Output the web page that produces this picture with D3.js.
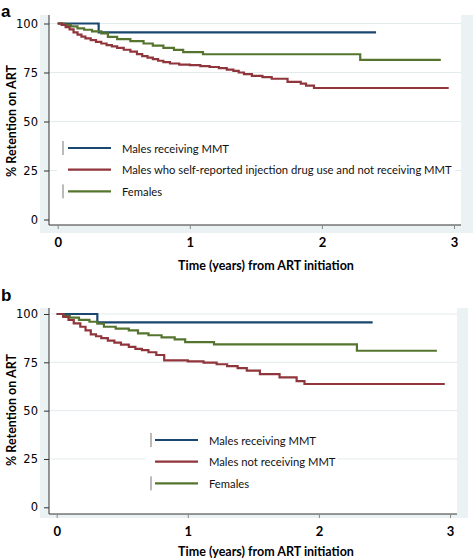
<!DOCTYPE html>
<html><head><meta charset="utf-8">
<script src="https://cdn.jsdelivr.net/npm/d3@7"></script>
<style>body{margin:0;background:#fff}svg{display:block}</style>
</head><body>
<svg id="c" width="473" height="559"></svg>
<script>
// ---------- DATA ----------
const yTicks = [0, 25, 50, 75, 100];
const xTicks = [0, 1, 2, 3];
const xTitle = "Time (years) from ART initiation";
const yTitle = "% Retention on ART";

// Panel a
const legendA = ["Males receiving MMT", "Males who self-reported injection drug use and not receiving MMT", "Females"];
const blueA_t = [0, 0.31, 2.41];
const blueA_v = [100, 95.5, 95.5];
const redA_t = [0, 0.03, 0.06, 0.09, 0.12, 0.15, 0.18, 0.21, 0.25, 0.29, 0.33, 0.37, 0.41, 0.45, 0.5, 0.55, 0.6, 0.64, 0.68, 0.72, 0.76, 0.8, 0.85, 0.92, 1.0, 1.08, 1.15, 1.22, 1.28, 1.33, 1.37, 1.41, 1.47, 1.55, 1.62, 1.74, 1.84, 1.88, 1.94, 2.96];
const redA_v = [100, 99.3, 98.2, 97, 95.5, 94.3, 93.3, 92.4, 91.5, 90.6, 89.8, 89.0, 88.3, 87.6, 86.6, 85.6, 84.4, 83.4, 82.6, 81.8, 81.0, 80.3, 79.6, 79.0, 78.8, 78.3, 77.8, 77.2, 76.5, 75.8, 75.0, 74.2, 73.3, 72.6, 71.8, 70.2, 69.3, 68.3, 67.1, 67.1];
const greenA_t = [0, 0.05, 0.1, 0.15, 0.2, 0.26, 0.33, 0.38, 0.45, 0.55, 0.65, 0.72, 0.8, 0.88, 0.95, 1.1, 2.29, 2.9];
const greenA_v = [100, 99.3, 98.5, 97.5, 96.8, 96.0, 95.0, 93.2, 92.0, 91.0, 89.8, 88.7, 87.6, 86.5, 85.4, 84.3, 81.4, 81.4];

// Panel b
const legendB = ["Males receiving MMT", "Males not receiving MMT", "Females"];
const blueB_t = [0, 0.31, 2.41];
const blueB_v = [100, 95.7, 95.7];
const redB_t = [0, 0.05, 0.09, 0.13, 0.18, 0.22, 0.26, 0.3, 0.34, 0.39, 0.44, 0.49, 0.55, 0.6, 0.65, 0.7, 0.76, 0.82, 1.0, 1.12, 1.22, 1.3, 1.38, 1.45, 1.55, 1.7, 1.83, 1.89, 2.96];
const redB_v = [100, 98.5, 96.9, 95.2, 93.4, 91.5, 89.5, 88.5, 87.5, 86.2, 85.2, 84.2, 83.0, 82.0, 81.3, 80.2, 78.8, 76.0, 75.5, 74.8, 74.0, 73.0, 72.0, 70.7, 68.9, 67.2, 65.3, 63.8, 63.8];
const greenB_t = [0, 0.05, 0.1, 0.17, 0.25, 0.31, 0.36, 0.45, 0.55, 0.62, 0.7, 0.8, 0.9, 0.98, 1.2, 2.29, 2.9];
const greenB_v = [100, 99, 98.1, 97, 96, 95, 93.4, 92.4, 91.5, 90, 89, 87.9, 86.9, 85.4, 84.3, 81, 81];

// ---------- STYLE ----------
const colors = ["#1a476f", "#90353b", "#55752f"];
const bluish = "#eaf2f3";
const font = "Lato, 'Open Sans', sans-serif";
const legendFontSize = 12;

const svg = d3.select("#c");

const probe = svg.append("text").attr("font-family", font).attr("font-size", legendFontSize).text(legendA[0]);
const squeeze = Math.min(1, 107 / probe.node().getComputedTextLength());
probe.remove();

function zip(t, v) { return t.map((d, i) => ({ t: d, v: v[i] })); }

function panel(cfg) {
  const g = svg.append("g");
  g.append("rect").attr("x", 40).attr("y", cfg.top).attr("width", cfg.outerRight - 40)
    .attr("height", cfg.outerBottom - cfg.top).attr("fill", bluish);
  g.append("rect").attr("x", 49).attr("y", cfg.top).attr("width", cfg.plotRight - 49)
    .attr("height", cfg.axisY - cfg.top).attr("fill", "#fff");

  const x = d3.scaleLinear().domain([0, 3]).range([cfg.x0, cfg.x3]);
  const y = d3.scaleLinear().domain([0, 100]).range([cfg.y0, cfg.y100]);

  g.append("g").selectAll("line").data(yTicks.filter(d => d > 0)).join("line")
    .attr("x1", 49).attr("x2", cfg.plotRight).attr("y1", d => y(d)).attr("y2", d => y(d))
    .attr("stroke", "#e3ebec").attr("stroke-width", 1);

  g.append("rect").attr("x", cfg.legX0).attr("y", cfg.legY - 16).attr("width", cfg.legX1 - cfg.legX0)
    .attr("height", 76).attr("fill", "#fff");

  const line = d3.line().x(d => x(d.t)).y(d => y(d.v)).curve(d3.curveStepAfter);
  const series = [cfg.series[0], cfg.series[2], cfg.series[1]];
  const sc = [colors[0], colors[2], colors[1]];
  series.forEach((s, i) => {
    g.append("path").attr("d", line(s)).attr("fill", "none")
      .attr("stroke", sc[i]).attr("stroke-width", 2.2);
  });

  const ya = g.append("g").attr("transform", `translate(49,0)`)
    .call(d3.axisLeft(y).tickValues(yTicks).tickSize(5).tickPadding(6));
  ya.select(".domain").attr("stroke", "#333").attr("d", `M0,${cfg.top}V${cfg.axisY}`);
  ya.selectAll(".tick line").attr("stroke", "#333");
  ya.selectAll("text").attr("font-family", "'DejaVu Sans', sans-serif").attr("font-size", 11.5).attr("fill", "#000");

  const xa = g.append("g").attr("transform", `translate(0,${cfg.axisY})`)
    .call(d3.axisBottom(x).tickValues(xTicks).tickFormat(d3.format("d")).tickSize(4).tickPadding(9));
  xa.select(".domain").attr("stroke", "#333").attr("d", `M49,0H${cfg.plotRight}`);
  xa.selectAll(".tick line").attr("stroke", "#888");
  xa.selectAll("text").attr("font-family", font).attr("font-weight", "bold").attr("font-size", 13).attr("fill", "#000");

  g.append("text").attr("x", cfg.xTitleX).attr("y", cfg.xTitleY).attr("text-anchor", "middle")
    .attr("font-family", font).attr("font-weight", "bold").attr("font-size", 12.5).text(xTitle);
  g.append("text").attr("transform", `translate(16,${cfg.yTitleY}) rotate(-90)`).attr("text-anchor", "middle")
    .attr("font-family", font).attr("font-weight", "bold").attr("font-size", 12.5).text(yTitle);
  g.append("text").attr("x", 1).attr("y", cfg.labelY).attr("font-family", "'Liberation Sans', Arial, sans-serif")
    .attr("font-weight", "bold").attr("font-size", 17).text(cfg.label);

  const lg = g.append("g");
  cfg.legend.forEach((name, i) => {
    const ly = cfg.legY + i * cfg.legGap;
    if (i !== 1) {
      lg.append("line").attr("x1", cfg.legBar).attr("x2", cfg.legBar).attr("y1", ly - 7).attr("y2", ly + 7)
        .attr("stroke", "#777").attr("stroke-width", 1);
    }
    lg.append("line").attr("x1", cfg.legLine).attr("x2", cfg.legLine + 43).attr("y1", ly).attr("y2", ly)
      .attr("stroke", colors[i]).attr("stroke-width", 2.2);
    const t = lg.append("text").attr("x", cfg.legText).attr("y", ly + 4.5).attr("font-family", font)
      .attr("font-size", legendFontSize).attr("fill", "#111").text(name);
    const w = t.node().getComputedTextLength();
    t.attr("textLength", w * squeeze).attr("lengthAdjust", "spacingAndGlyphs");
  });
}

panel({
  label: "a", labelY: 17, top: 15, axisY: 225, outerBottom: 233, plotRight: 461, outerRight: 473,
  x0: 57.7, x3: 454, y0: 219.5, y100: 23.5,
  xTitleX: 266, xTitleY: 270, yTitleY: 121,
  legend: legendA, legX0: 57, legX1: 455, legY: 148, legGap: 21.7, legBar: 63, legLine: 68, legText: 122,
  series: [zip(blueA_t, blueA_v), zip(redA_t, redA_v), zip(greenA_t, greenA_v)]
});

panel({
  label: "b", labelY: 301, top: 308, axisY: 514, outerBottom: 518, plotRight: 457, outerRight: 468,
  x0: 56.7, x3: 450, y0: 507.3, y100: 314,
  xTitleX: 266, xTitleY: 556, yTitleY: 410,
  legend: legendB, legX0: 145, legX1: 337, legY: 440, legGap: 21.7, legBar: 151, legLine: 155, legText: 209,
  series: [zip(blueB_t, blueB_v), zip(redB_t, redB_v), zip(greenB_t, greenB_v)]
});
</script>
</body></html>
